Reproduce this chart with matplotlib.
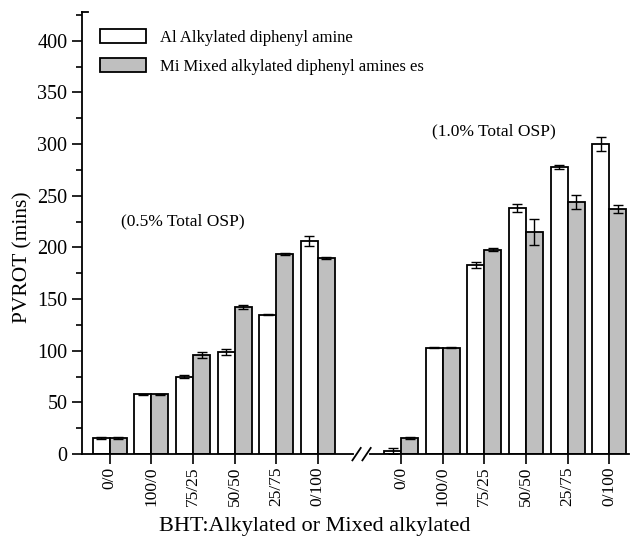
import matplotlib
matplotlib.use("Agg")
import matplotlib.pyplot as plt
import numpy as np
from matplotlib.patches import Patch
from matplotlib.ticker import MultipleLocator

plt.rcParams['font.family'] = ['Liberation Serif', 'DejaVu Serif']

categories = ["0/0", "100/0", "75/25", "50/50", "25/75", "0/100"]
group_labels = ["(0.5% Total OSP)", "(1.0% Total OSP)"]
series_names = ["Al Alkylated diphenyl amine", "Mi Mixed alkylated diphenyl amines es"]

# 0.5% Total OSP
alk_05 = [16, 58, 75, 99, 135, 206]
alk_05_err = [1, 0.5, 1.5, 3, 0.5, 5]
mix_05 = [16, 58, 96, 142, 194, 190]
mix_05_err = [1, 0.5, 2.5, 2, 1, 1]

# 1.0% Total OSP
alk_10 = [3, 103, 183, 238, 278, 300]
alk_10_err = [2.5, 0.5, 3, 4, 2, 7]
mix_10 = [16, 103, 198, 215, 244, 237]
mix_10_err = [1, 0.5, 1.5, 13, 6.5, 4]

fig = plt.figure(figsize=(6.3, 5.4), dpi=100)
ax = fig.add_axes([0.130, 0.159, 0.868, 0.819])

pos1 = np.arange(6)
pos2 = np.arange(6) + 7
w = 0.41
white = "white"
gray = "#bfbfbf"
ekw = dict(ecolor="black", elinewidth=1, capsize=3.5, capthick=1)

for pos, a, ae, m, me in [(pos1, alk_05, alk_05_err, mix_05, mix_05_err),
                          (pos2, alk_10, alk_10_err, mix_10, mix_10_err)]:
    ax.bar(pos - w / 2, a, w, yerr=ae, color=white, edgecolor="black", linewidth=1.3, error_kw=ekw)
    ax.bar(pos + w / 2, m, w, yerr=me, color=gray, edgecolor="black", linewidth=1.3, error_kw=ekw)

ax.set_xlim(-0.67, 12.47)
ax.set_ylim(0, 428)
ax.set_xticks(list(pos1) + list(pos2))
ax.set_xticklabels(categories + categories, rotation=90, fontsize=12.5)
ax.yaxis.set_major_locator(MultipleLocator(50))
ax.yaxis.set_minor_locator(MultipleLocator(25))
ax.tick_params(axis='y', which='major', direction='out', length=7, width=1.2, labelsize=14.5)
ax.tick_params(axis='y', which='minor', direction='out', length=4, width=1.2)
ax.tick_params(axis='x', which='major', direction='out', length=7, width=1.2, pad=2)

for s in ["top", "right"]:
    ax.spines[s].set_visible(False)
ax.spines["left"].set_linewidth(1.3)
ax.spines["bottom"].set_visible(False)

# bottom axis with break
ax.plot([-0.67, 5.85], [0, 0], color="black", lw=1.3, clip_on=False)
ax.plot([6.25, 12.47], [0, 0], color="black", lw=1.3, clip_on=False)
for dx in (5.83, 6.07):
    ax.plot([dx, dx + 0.2], [-6, 6], color="black", lw=1.3, clip_on=False)
# top end cap on y axis
ax.plot([-0.67, -0.53], [428, 428], color="black", lw=1.3, clip_on=False)

ax.set_ylabel("PVROT (mins)", fontsize=15.5)
ax.yaxis.set_label_coords(-0.091, 0.446)
ax.set_xlabel("BHT:Alkylated or Mixed alkylated", fontsize=16)
ax.xaxis.set_label_coords(0.426, -0.143)

ax.text(1.76, 225, group_labels[0], fontsize=12.5, ha="center", va="center")
ax.text(9.23, 312, group_labels[1], fontsize=12.5, ha="center", va="center")

handles = [Patch(facecolor=white, edgecolor="black", linewidth=1.3),
           Patch(facecolor=gray, edgecolor="black", linewidth=1.3)]
ax.legend(handles, series_names, loc="upper left", bbox_to_anchor=(0.005, 0.995),
          frameon=False, fontsize=12, handlelength=2.8, handleheight=0.9,
          handletextpad=0.8, labelspacing=0.75)

fig.savefig("out.png", dpi=100)
